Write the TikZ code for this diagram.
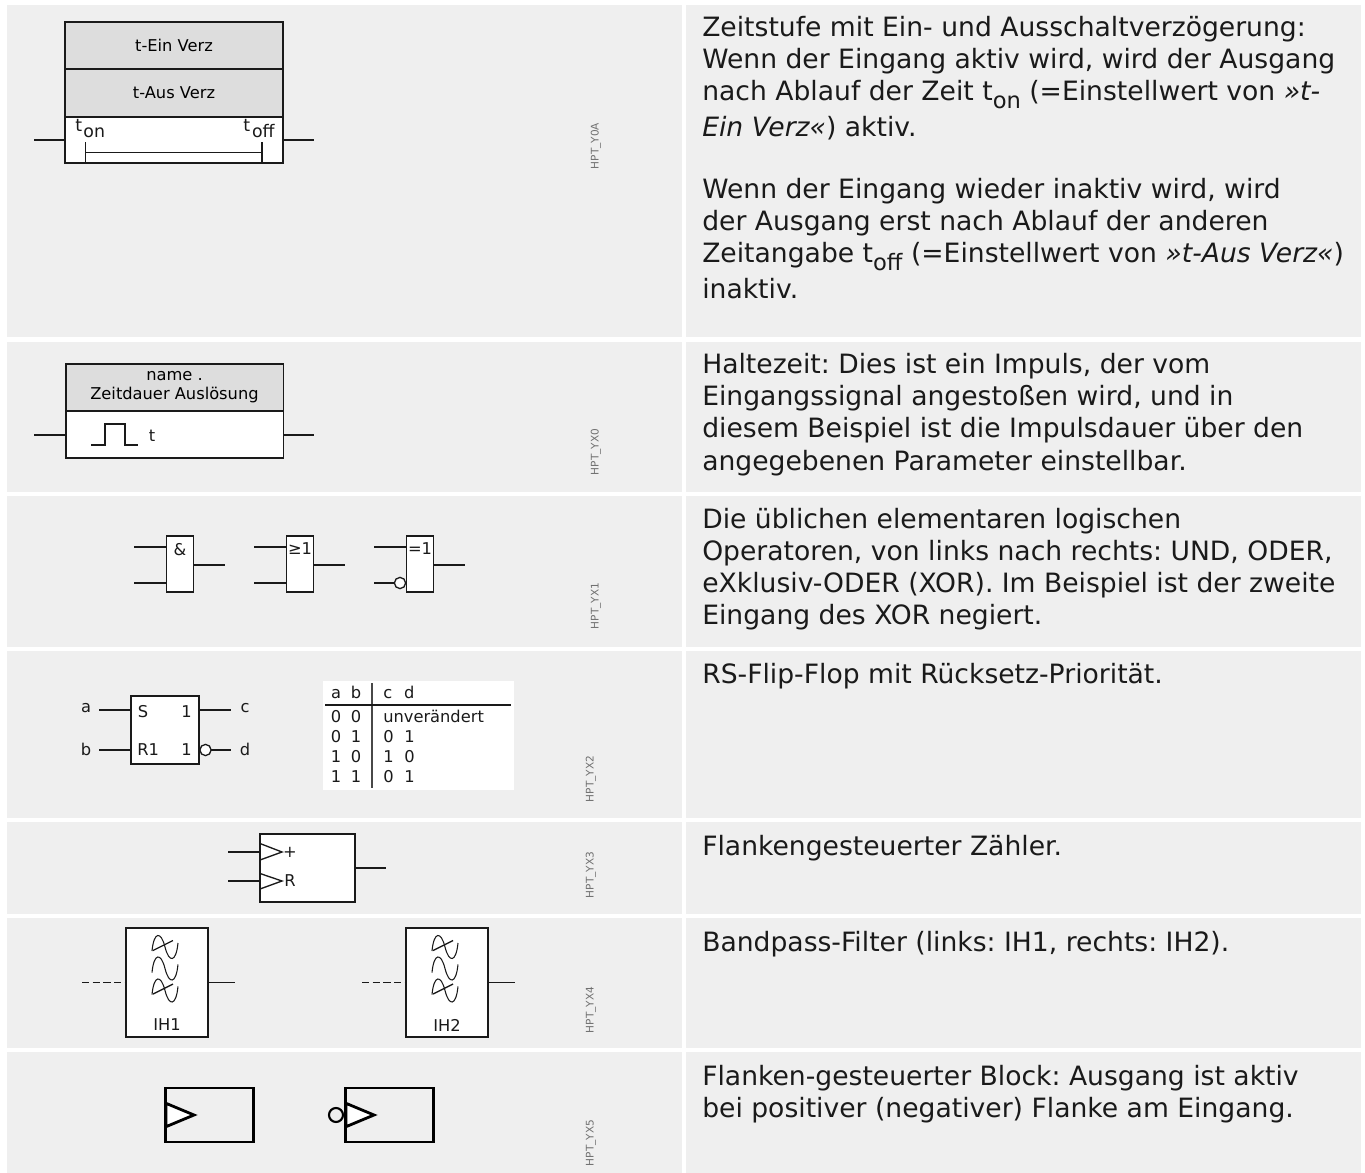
\documentclass[tikz,border=0pt]{standalone}
\usepackage{fontspec}
\usepackage{graphicx}
\setmainfont{DejaVu Sans}
\usetikzlibrary{calc}
\definecolor{panel}{HTML}{EFEFEF}
\definecolor{head}{HTML}{DDDDDD}
\definecolor{ink}{HTML}{1A1A1A}
\definecolor{tag}{HTML}{707070}
\newcommand{\sbs}[1]{\raisebox{-.3em}{\scalebox{.85}{#1}}}
\tikzset{
  x=0.75pt,y=-0.75pt,
  bx/.style={draw=ink,line width=1pt,fill=white,inner sep=0,outer sep=0,rectangle},
  hd/.style={bx,fill=head,font=\frenchspacing\fontsize{12.2pt}{14.4pt}\selectfont,align=center},
  wire/.style={draw=ink,line width=1pt},
  fine wire/.style={draw=ink,line width=0.8pt},
  lab/.style={font=\fontsize{12.2pt}{14pt}\selectfont,inner sep=0,text=ink},
  bub/.style={circle,draw=ink,line width=1pt,fill=white,minimum size=8.4pt,inner sep=0,outer sep=0},
  tagl/.style={rotate=90,font=\fontsize{7.9pt}{9pt}\selectfont,text=tag,inner sep=0},
  txt/.style={anchor=base west,inner sep=0,font=\frenchspacing\fontsize{19.95pt}{24pt}\selectfont,text=ink},
  edgebox/.style={rectangle,draw=black,line width=2.1pt,outer sep=0,inner sep=0,minimum width=65.5pt,minimum height=40.5pt},
  edgetri/.style={draw=black,line width=2.1pt,fill=white,line join=miter},
}
\newcommand{\sinus}[1]{%
  \draw[fine wire] ($(#1)+(-13,4)$) .. controls ($(#1)+(-11,-16)$) and ($(#1)+(-4,-16)$) .. ($(#1)+(0,0)$) .. controls ($(#1)+(4,16)$) and ($(#1)+(11,16)$) .. ($(#1)+(13,-4)$);}
\begin{document}
\begin{tikzpicture}
\useasboundingbox (0,0) rectangle (1365,1173);
\fill[white] (0,0) rectangle (1365,1173);
% panels
\foreach \ya/\yb in {5/337,342/492,496/647,651/818,822/914,918/1048,1052/1173}{
  \fill[panel] (7,\ya) rectangle (682,\yb);
  \fill[panel] (686,\ya) rectangle (1361,\yb);
}
% --- row 1
\node[hd,minimum width=163.5pt,minimum height=35.25pt] (t1) at (174,45.5) {t-Ein Verz};
\node[hd,minimum width=163.5pt,minimum height=35.25pt] (t2) at (174,93) {t-Aus Verz};
\node[bx,minimum width=163.5pt,minimum height=34.5pt] (t3) at (174,140) {};
\coordinate (t3in) at (34,140); \coordinate (t3out) at (314,140);
\draw[wire] (t3in) -- (t3in -| t3.west);
\draw[wire] (t3.east |- t3out) -- (t3out);
\node[lab,anchor=base west,font=\fontsize{13pt}{14pt}\selectfont] (ton) at (75,132) {t\kern1pt\raisebox{-.3em}{on}};
\node[lab,anchor=base west,font=\fontsize{13pt}{14pt}\selectfont] (toff) at (243,132) {t\kern1.5pt\raisebox{-.3em}{off}};
\coordinate (tonT) at (85.5,142.5); \coordinate (tonB) at (85.5,162.5);
\coordinate (toffT) at (262,142.5); \coordinate (toffB) at (262,162.5);
\draw[fine wire] (tonT) -- (tonB);
\draw[fine wire] (toffT) -- (toffB);
\draw[fine wire] ($(tonT)!.5!(tonB)$) -- ($(toffT)!.5!(toffB)$);
% --- row 2
\node[hd,minimum width=163pt,minimum height=35.25pt] (h1) at (174.5,387.5) {name .\\Zeitdauer Auslösung};
\node[bx,minimum width=163pt,minimum height=35.25pt] (h2) at (174.5,434.5) {};
\coordinate (h2in) at (34,435); \coordinate (h2out) at (314,435);
\draw[wire] (h2in) -- (h2in -| h2.west);
\draw[wire] (h2.east |- h2out) -- (h2out);
\coordinate (p0) at (91,445); \coordinate (p1) at (138,445);
\draw[fine wire] (p0) -- ++(14,0) -- ++(0,-21) -- ++(20,0) -- ++(0,21) -- (p1);
\node[lab] (ht) at (152,435.5) {t};
% --- row 3
\node[bx,minimum width=20.25pt,minimum height=42pt] (andg) at (180,564) {};
\node[lab] (andl) at (180,550) {\&};
\coordinate (a1) at (134,547); \coordinate (a2) at (134,583); \coordinate (a3) at (225,565);
\draw[wire] (a1) -- (a1 -| andg.west);
\draw[wire] (a2) -- (a2 -| andg.west);
\draw[wire] (andg.east |- a3) -- (a3);
\node[bx,minimum width=20.25pt,minimum height=42pt] (org) at (300,564) {};
\node[lab] (orl) at (300,549) {≥1};
\coordinate (o1) at (254,547); \coordinate (o2) at (254,583); \coordinate (o3) at (345,565);
\draw[wire] (o1) -- (o1 -| org.west);
\draw[wire] (o2) -- (o2 -| org.west);
\draw[wire] (org.east |- o3) -- (o3);
\node[bx,minimum width=20.25pt,minimum height=42pt] (xorg) at (420,564) {};
\node[lab] (xorl) at (420,549) {=1};
\coordinate (x1) at (374,547); \coordinate (x2) at (374,583); \coordinate (x3) at (465,565);
\node[bub] (xb) at (400,583) {};
\draw[wire] (x1) -- (x1 -| xorg.west);
\draw[wire] (x2) -- (xb);
\draw[wire] (xorg.east |- x3) -- (x3);
% --- row 4
\node[bx,minimum width=51pt,minimum height=51pt] (ff) at (165,730) {};
\node[lab] (a) at (86,708) {a}; \node[lab] (b) at (86,749) {b};
\node[lab] (c) at (245,708) {c}; \node[lab] (d) at (245,749) {d};
\coordinate (fa) at (99,710); \coordinate (fb) at (99,750); \coordinate (fc) at (231,710); \coordinate (fd) at (231,750);
\draw[wire] (fa) -- (fa -| ff.west);
\draw[wire] (fb) -- (fb -| ff.west);
\draw[wire] (ff.east |- fc) -- (fc);
\node[bub] (fbub) at (205.5,750) {};
\draw[wire] (fbub) -- (fd);
\node[lab,anchor=base west] (fs) at (137.5,717) {S};
\node[lab,anchor=base west] (fr) at (137,755.5) {R1};
\node[lab,anchor=base west] (f1) at (181,717) {1};
\node[lab,anchor=base west] (f2) at (181,755.5) {1};
\fill[white] (323,681) rectangle (514,790);
\coordinate (tv1) at (372,683); \coordinate (tv2) at (372,788);
\coordinate (th1) at (325,705); \coordinate (th2) at (511,705);
\draw[wire,draw=ink!80] (tv1) -- (tv2);
\draw[wire] (th1) -- (th2);
\foreach \nm/\yy/\xa/\xb in {r0/698/a/b,r1/722/0/0,r2/742/0/1,r3/762/1/0,r4/782/1/1}{
  \node[lab,anchor=base] (\nm a) at (336,\yy) {\xa};
  \node[lab,anchor=base] (\nm b) at (356,\yy) {\xb};
}
\node[lab,anchor=base west] (r0c) at (383,698) {c\kern9pt d};
\node[lab,anchor=base west] (r1c) at (383,722) {unverändert};
\node[lab,anchor=base west] (r2c) at (383,742) {0\kern8pt 1};
\node[lab,anchor=base west] (r3c) at (383,762) {1\kern8pt 0};
\node[lab,anchor=base west] (r4c) at (383,782) {0\kern8pt 1};
% --- row 5
\node[bx,minimum width=71.25pt,minimum height=51pt] (cnt) at (307.5,868) {};
\coordinate (c1) at (228,852); \coordinate (c2) at (228,881); \coordinate (c3) at (386,868);
\draw[wire] (c1) -- (c1 -| cnt.west);
\draw[wire] (c2) -- (c2 -| cnt.west);
\draw[wire] (cnt.east |- c3) -- (c3);
\draw[wire,line join=miter] (260,843.5) -- (282,852) -- (260,860);
\draw[wire,line join=miter] (260,873.5) -- (282,881) -- (260,889);
\node[lab] (cp) at (290,852) {+};
\node[lab] (cr) at (290,881) {R};
% --- row 6
\foreach \nm/\xx/\ii in {fa/167/IH1,fb/447/IH2}{
  \node[bx,minimum width=61.5pt,minimum height=81.75pt] (\nm) at (\xx,982.5) {};
  \coordinate (\nm i) at ($(\nm.center)+(-85,0)$);
  \coordinate (\nm o) at ($(\nm.center)+(68,0)$);
  \draw[wire,dash pattern=on 5.6pt off 2.4pt] (\nm i) -- (\nm.west);
  \draw[wire] (\nm.east) -- (\nm o);
  \node[lab] (\nm t) at (\xx,1025) {\ii};
  \coordinate (\nm s1) at (\xx-2,947);
  \coordinate (\nm s2) at (\xx-2,968.5);
  \coordinate (\nm s3) at (\xx-2,990.5);
  \sinus{\nm s1}\sinus{\nm s2}\sinus{\nm s3}
  \draw[wire] ($(\nm s1)+(-12,3.5)$) -- ($(\nm s1)+(8,-6.5)$);
  \draw[wire] ($(\nm s3)+(-12,3.5)$) -- ($(\nm s3)+(8,-6.5)$);
}
% --- row 7
\node[edgebox] (e1) at (209.5,1115) {};
\draw[edgetri] (166,1103.3) -- (194,1115) -- (166,1126.7) -- cycle;
\node[edgebox] (e2) at (389.5,1115) {};
\draw[edgetri] (346,1103.3) -- (374,1115) -- (346,1126.7) -- cycle;
\node[circle,draw=black,line width=1.6pt,minimum size=10.5pt,inner sep=0] (e2b) at (336,1115) {};
% tags
\node[tagl] (g0) at (596,146) {HPT\_Y0A};
\node[tagl] (g1) at (596,452) {HPT\_YX0};
\node[tagl] (g2) at (596,606) {HPT\_YX1};
\node[tagl] (g3) at (591,779) {HPT\_YX2};
\node[tagl] (g4) at (591,875) {HPT\_YX3};
\node[tagl] (g5) at (591,1010) {HPT\_YX4};
\node[tagl] (g6) at (591,1143) {HPT\_YX5};
% right text
\node[txt] (l1) at (702,37) {Zeitstufe mit Ein- und Ausschaltverzögerung:};
\node[txt] (l2) at (702,69) {Wenn der Eingang aktiv wird, wird der Ausgang};
\node[txt] (l3) at (702,101) {nach Ablauf der Zeit t\sbs{on} (=Einstellwert von \textit{»t-}};
\node[txt] (l4) at (702,137) {\textit{Ein Verz«}) aktiv.};
\node[txt] (l5) at (702,199) {Wenn der Eingang wieder inaktiv wird, wird};
\node[txt] (l6) at (702,231) {der Ausgang erst nach Ablauf der anderen};
\node[txt] (l7) at (702,263) {Zeitangabe t\sbs{off} (=Einstellwert von \textit{»t-Aus Verz«})};
\node[txt] (l8) at (702,299) {inaktiv.};
\node[txt] (m1) at (702,374) {Haltezeit: Dies ist ein Impuls, der vom};
\node[txt] (m2) at (702,406) {Eingangssignal angestoßen wird, und in};
\node[txt] (m3) at (702,438) {diesem Beispiel ist die Impulsdauer über den};
\node[txt] (m4) at (702,470) {angegebenen Parameter einstellbar.};
\node[txt] (n1) at (702,528) {Die üblichen elementaren logischen};
\node[txt] (n2) at (702,560) {Operatoren, von links nach rechts: UND, ODER,};
\node[txt] (n3) at (702,592) {eXklusiv-ODER (XOR). Im Beispiel ist der zweite};
\node[txt] (n4) at (702,624) {Eingang des XOR negiert.};
\node[txt] (o1t) at (702,683) {RS-Flip-Flop mit Rücksetz-Priorität.};
\node[txt] (p1t) at (702,855) {Flankengesteuerter Zähler.};
\node[txt] (q1t) at (702,951) {Bandpass-Filter (links: IH1, rechts: IH2).};
\node[txt] (s1t) at (702,1085) {Flanken-gesteuerter Block: Ausgang ist aktiv};
\node[txt] (s2t) at (702,1117) {bei positiver (negativer) Flanke am Eingang.};
\end{tikzpicture}
\end{document}
